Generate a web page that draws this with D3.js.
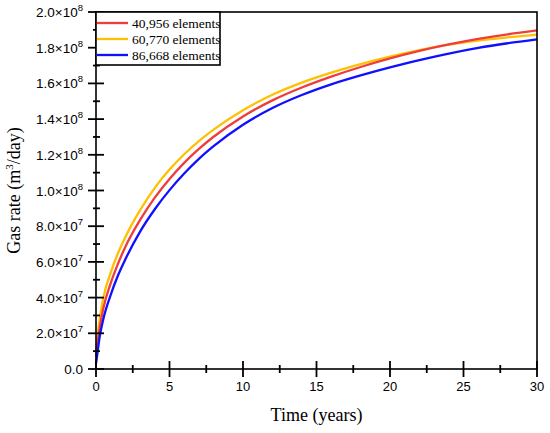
<!DOCTYPE html>
<html><head><meta charset="utf-8">
<script src="https://cdn.jsdelivr.net/npm/d3@7"></script>
<style>body{margin:0;background:#fff}svg{display:block}</style>
</head><body>
<script>
// ---- data ----
const times = [0,0.1,0.25,0.5,1,1.5,2,3,4,5,6,7,8,10,12,14,16,18,20,22,24,26,28,30];
const seriesNames = ["40,956 elements","60,770 elements","86,668 elements"];
const seriesColors = ["#f03c3c","#ffc000","#1010ff"];
// values in units of 1e7 m3/day
const red40956 = [0.7,1.4,2.3,3.4,4.8,5.9,6.85,8.35,9.6,10.65,11.55,12.33,13.01,14.15,15.05,15.77,16.38,16.92,17.40,17.82,18.18,18.49,18.75,18.97];
const yellow60770 = [1.0,1.8,2.8,4.0,5.4,6.5,7.4,8.9,10.15,11.17,12.03,12.77,13.41,14.5,15.36,16.04,16.6,17.08,17.5,17.86,18.17,18.40,18.58,18.73];
const blue86668 = [0.3,0.9,1.8,2.8,4.15,5.25,6.15,7.7,8.95,10.02,10.95,11.77,12.48,13.68,14.62,15.35,15.95,16.45,16.9,17.3,17.67,17.99,18.25,18.47];
const xTicks = [0,5,10,15,20,25,30];
const xMinor = [2.5,7.5,12.5,17.5,22.5,27.5];
const yTicks = [0,2e7,4e7,6e7,8e7,1e8,1.2e8,1.4e8,1.6e8,1.8e8,2e8];
const yTickMantissa = ["0.0","2.0","4.0","6.0","8.0","1.0","1.2","1.4","1.6","1.8","2.0"];
const yTickExp = ["","7","7","7","7","8","8","8","8","8","8"];
const yMinor = [1e7,3e7,5e7,7e7,9e7,1.1e8,1.3e8,1.5e8,1.7e8,1.9e8];

const W=550,H=433;
const m={l:96,r:13,t:12,b:64};
const svg=d3.select("body").append("svg").attr("width",W).attr("height",H);
const x=d3.scaleLinear().domain([0,30]).range([m.l,W-m.r]);
const y=d3.scaleLinear().domain([0,2e8]).range([H-m.b,m.t]);

const series=[red40956,yellow60770,blue86668];
const drawOrder=[1,0,2];
const line=d3.line().x(d=>x(d[0])).y(d=>y(d[1]*1e7)).curve(d3.curveMonotoneX);
drawOrder.forEach(i=>{
  svg.append("path").datum(times.map((t,k)=>[t,series[i][k]]))
    .attr("d",line).attr("fill","none").attr("stroke",seriesColors[i]).attr("stroke-width",2.3);
});

// frame
svg.append("rect").attr("x",x(0)).attr("y",y(2e8)).attr("width",x(30)-x(0)).attr("height",y(0)-y(2e8))
  .attr("fill","none").attr("stroke","#000").attr("stroke-width",1.6);

// ticks
const g=svg.append("g").attr("stroke","#000").attr("stroke-width",1.8);
xTicks.forEach(v=>g.append("line").attr("x1",x(v)).attr("x2",x(v)).attr("y1",y(0)-8).attr("y2",y(0)+8));
xMinor.forEach(v=>g.append("line").attr("x1",x(v)).attr("x2",x(v)).attr("y1",y(0)-4).attr("y2",y(0)+4));
yTicks.forEach(v=>g.append("line").attr("y1",y(v)).attr("y2",y(v)).attr("x1",x(0)-8).attr("x2",x(0)+8));
yMinor.forEach(v=>g.append("line").attr("y1",y(v)).attr("y2",y(v)).attr("x1",x(0)-3).attr("x2",x(0)+4));

const sans="'Liberation Sans',Arial,sans-serif", serif="'Liberation Serif','Times New Roman',serif";
xTicks.forEach(v=>svg.append("text").attr("x",x(v)).attr("y",y(0)+22).attr("text-anchor","middle")
  .attr("font-family",sans).attr("font-size",13).text(v));
yTicks.forEach((v,i)=>{
  const t=svg.append("text").attr("x",x(0)-13).attr("y",y(v)+5).attr("text-anchor","end")
    .attr("font-family",sans).attr("font-size",13.5);
  if(yTickExp[i]===""){t.text(yTickMantissa[i]);}
  else{
    t.append("tspan").text(yTickMantissa[i]+"×10");
    t.append("tspan").attr("dy",-6).attr("font-size",9.5).text(yTickExp[i]);
  }
});

// axis titles
svg.append("text").attr("x",(x(0)+x(30))/2).attr("y",421).attr("text-anchor","middle")
  .attr("font-family",serif).attr("font-size",18).text("Time (years)");
const yt=svg.append("text").attr("transform",`translate(20,${(y(0)+y(2e8))/2}) rotate(-90)`)
  .attr("text-anchor","middle").attr("font-family",serif).attr("font-size",18);
yt.append("tspan").text("Gas rate (m");
yt.append("tspan").attr("dy",-7).attr("font-size",11).text("3");
yt.append("tspan").attr("dy",7).text("/day)");

// legend
const lg=svg.append("g");
lg.append("rect").attr("x",x(0)).attr("y",y(2e8)).attr("width",124).attr("height",53)
  .attr("fill","#fff").attr("stroke","#000").attr("stroke-width",1.6);
seriesNames.forEach((n,i)=>{
  const yy=y(2e8)+11+i*16;
  lg.append("line").attr("x1",x(0)+1).attr("x2",x(0)+32).attr("y1",yy).attr("y2",yy)
    .attr("stroke",seriesColors[i]).attr("stroke-width",2.3);
  lg.append("text").attr("x",x(0)+36).attr("y",yy+4.5).attr("font-family",serif).attr("font-size",13.5).text(n);
});
</script>
</body></html>
